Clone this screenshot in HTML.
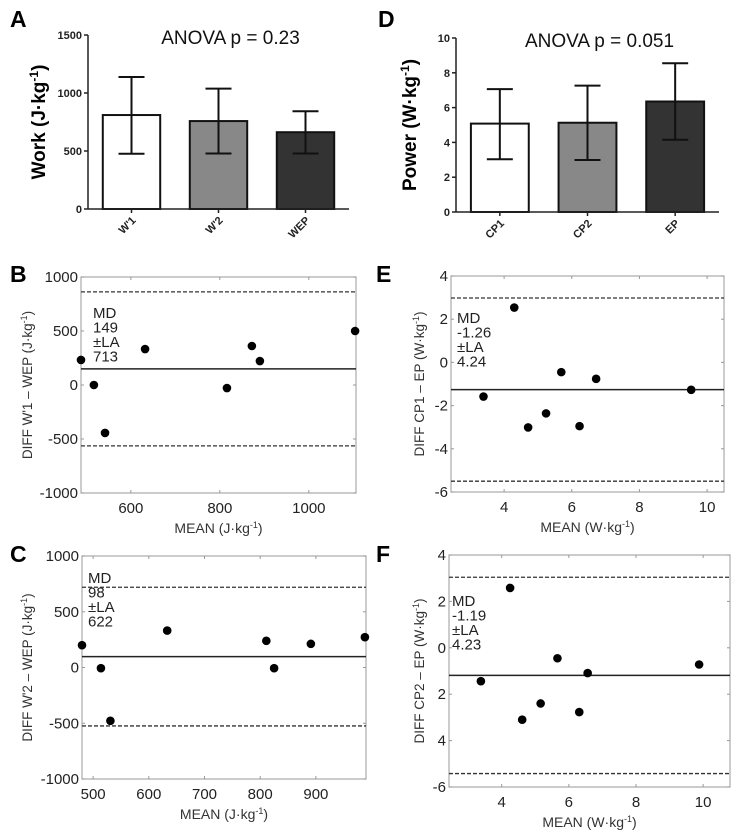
<!DOCTYPE html>
<html><head><meta charset="utf-8"><style>
html,body{margin:0;padding:0;background:#fff;}
svg{display:block;font-family:"Liberation Sans",Arial,sans-serif;}
</style></head><body>
<svg id="fig" width="738" height="834" viewBox="0 0 738 834"></svg>
<script>
// ---- Data: bar charts ----
const workCats = ["W'1","W'2","WEP"];
const workMeans = [810, 758, 662];
const workUpper = [1138, 1038, 843];
const workLower = [476, 478, 478];
const workTicks = [0, 500, 1000, 1500];
const powerCats = ["CP1","CP2","EP"];
const powerMeans = [5.08, 5.13, 6.35];
const powerUpper = [7.06, 7.26, 8.55];
const powerLower = [3.03, 2.99, 4.15];
const powerTicks = [0, 2, 4, 6, 8, 10];
// ---- Data: Bland-Altman B ----
const bMean = [488, 517, 542, 632, 816, 872, 890, 1104];
const bDiff = [232, 0, -444, 333, -28, 361, 222, 500];
const bMD = 149, bLA = 713;
// ---- Data: Bland-Altman C ----
const cMean = [480, 514, 531, 633, 811, 825, 891, 988];
const cDiff = [200, -6, -478, 331, 239, -6, 212, 272];
const cMD = 98, cLA = 622;
// ---- Data: Bland-Altman E ----
const eMean = [3.39, 4.30, 4.71, 5.24, 5.69, 6.23, 6.72, 9.53];
const eDiff = [-1.58, 2.54, -3.01, -2.36, -0.45, -2.95, -0.76, -1.27];
const eMD = -1.26, eLA = 4.24;
// ---- Data: Bland-Altman F ----
const fMean = [3.38, 4.25, 4.61, 5.16, 5.66, 6.31, 6.56, 9.88];
const fDiff = [-1.44, 2.58, -3.10, -2.40, -0.45, -2.77, -1.09, -0.72];
const fMD = -1.19, fLA = 4.23;
const kgTicksY = [-1000, -500, 0, 500, 1000];
const kgTicksYLabels = ["-1000","-500","0","500","1000"];
const bTicksX = [600, 800, 1000];
const cTicksX = [500, 600, 700, 800, 900];
const wTicksX = [4, 6, 8, 10];
const wTicksY = [-6, -4, -2, 0, 2, 4];
const eTickLabels = ["-6","-4","-2","0","2","4"];
const fTickLabels = ["-6","4","2","0","2","4"];

const NS = "http://www.w3.org/2000/svg";
const svg = document.getElementById('fig');
function mk(tag, attrs, parent, text){
  const e = document.createElementNS(NS, tag);
  for (const k in attrs) e.setAttribute(k, attrs[k]);
  if (text !== undefined) e.textContent = text;
  (parent || svg).appendChild(e);
  return e;
}
function letter(t, x, y){
  const e = mk('text', {x:x, y:y, 'font-size':23, 'font-weight':'bold', fill:'#000'}, svg, t);
  
  
}

function barChart(id, p, cats, means, up, lo, ticks, ymax, fills, title, ytitleMain, ytitleUnit, yt){
  const g = mk('g', {});
  
  
  const sy = v => p.y1 - v / ymax * (p.y1 - p.y0);
  const n = cats.length, bw = (p.x1 - p.x0) / n;
  const sx = i => p.x0 + bw * (i + 0.5);
  means.forEach((m, i) => {
    const w = bw * 0.66;
    const r = mk('rect', {x:sx(i)-w/2, y:sy(m), width:w, height:sy(0)-sy(m), fill:fills[i], stroke:'#111', 'stroke-width':2}, g);
    
    
    const eb = mk('g', {stroke:'#111', 'stroke-width':2}, g);
    
    
    mk('line', {x1:sx(i), x2:sx(i), y1:sy(up[i]), y2:sy(lo[i])}, eb);
    mk('line', {x1:sx(i)-13, x2:sx(i)+13, y1:sy(up[i]), y2:sy(up[i])}, eb);
    mk('line', {x1:sx(i)-13, x2:sx(i)+13, y1:sy(lo[i]), y2:sy(lo[i])}, eb);
    const tl = mk('text', {transform:`translate(${sx(i)+5},${p.y1+12}) rotate(-45)`, 'text-anchor':'end', 'font-size':11, 'font-weight':'bold', fill:'#222'}, g, cats[i]);
    
    
  });
  const ax = mk('g', {stroke:'#222', 'stroke-width':1.5}, g);
  
  
  mk('line', {x1:p.x0, x2:p.x0, y1:p.y0, y2:p.y1}, ax);
  mk('line', {x1:p.x0, x2:p.x1, y1:p.y1, y2:p.y1}, ax);
  cats.forEach((c, i) => mk('line', {x1:sx(i), x2:sx(i), y1:p.y1, y2:p.y1+4}, ax));
  ticks.forEach(t => {
    mk('line', {x1:p.x0-4, x2:p.x0, y1:sy(t), y2:sy(t)}, ax);
    const tl = mk('text', {x:p.x0-6, y:sy(t)+4, 'text-anchor':'end', 'font-size':11, 'font-weight':'bold', fill:'#222'}, g, String(t));
    
    
  });
  const tt = mk('text', {x:(p.x0+p.x1)/2+12, y:p.y0+9, 'text-anchor':'middle', 'font-size':19, fill:'#111'}, g, title);
  
  
  const yti = mk('text', {transform:`translate(${yt},${(p.y0+p.y1)/2}) rotate(-90)`, 'text-anchor':'middle', 'font-size':19, 'font-weight':'bold', fill:'#000'}, g);
  
  
  mk('tspan', {}, yti, ytitleMain);
  mk('tspan', {'baseline-shift':'super', 'font-size':12}, yti, '-1');
  mk('tspan', {}, yti, ')');
}

function baPlot(id, p, xr, yr, xs, ys, md, la, xticks, yticks, ylabels, ytitle, xtitle, unit, text, tx, tyBase, ytx){
  const g = mk('g', {});
  
  
  const sx = v => p.l + (v - xr[0]) / (xr[1] - xr[0]) * (p.r - p.l);
  const sy = v => p.b - (v - yr[0]) / (yr[1] - yr[0]) * (p.b - p.t);
  const box = mk('rect', {x:p.l, y:p.t, width:p.r-p.l, height:p.b-p.t, fill:'none', stroke:'#aaa', 'stroke-width':1.2}, g);
  
  
  xticks.forEach(t => {
    mk('line', {x1:sx(t), x2:sx(t), y1:p.b, y2:p.b-3, stroke:'#999'}, g);
    mk('line', {x1:sx(t), x2:sx(t), y1:p.t, y2:p.t+3, stroke:'#999'}, g);
    const tl = mk('text', {x:sx(t), y:p.b+20, 'text-anchor':'middle', 'font-size':15, fill:'#222'}, g, String(t));
    
    
  });
  yticks.forEach((t, i) => {
    mk('line', {x1:p.l, x2:p.l+3, y1:sy(t), y2:sy(t), stroke:'#999'}, g);
    mk('line', {x1:p.r, x2:p.r-3, y1:sy(t), y2:sy(t), stroke:'#999'}, g);
    const tl = mk('text', {x:p.l-3, y:sy(t)+5, 'text-anchor':'end', 'font-size':15, fill:'#222'}, g, ylabels[i]);
    
    
  });
  const ml = mk('line', {x1:p.l, x2:p.r, y1:sy(md), y2:sy(md), stroke:'#222', 'stroke-width':1.5}, g);
  
  
  [md + la, md - la].forEach(v => {
    const l = mk('line', {x1:p.l, x2:p.r, y1:sy(v), y2:sy(v), stroke:'#333', 'stroke-width':1.3, 'stroke-dasharray':'4,2'}, g);
    
    
  });
  xs.forEach((x, i) => {
    const c = mk('circle', {cx:sx(x), cy:sy(ys[i]), r:4.3, fill:'#000'}, g);
    
    
  });
  const tg = mk('text', {'font-size':15, fill:'#222'}, g);
  
  
  text.forEach((s, i) => mk('tspan', {x:tx, y:tyBase + i*14.5}, tg, s));
  const yti = mk('text', {transform:`translate(${ytx},${(p.t+p.b)/2}) rotate(-90)`, 'text-anchor':'middle', 'font-size':13.5, fill:'#333'}, g);
  
  
  mk('tspan', {}, yti, ytitle + ' (' + unit + '·kg');
  mk('tspan', {'baseline-shift':'super', 'font-size':9}, yti, '-1');
  mk('tspan', {}, yti, ')');
  const xti = mk('text', {x:(p.l+p.r)/2, y:p.b+40, 'text-anchor':'middle', 'font-size':14, fill:'#333'}, g);
  
  
  mk('tspan', {}, xti, xtitle + ' (' + unit + '·kg');
  mk('tspan', {'baseline-shift':'super', 'font-size':9}, xti, '-1');
  mk('tspan', {}, xti, ')');
}

letter('A', 10, 27); letter('D', 378, 27);
letter('B', 10, 282); letter('E', 376, 282);
letter('C', 10, 562); letter('F', 376, 562);

barChart('work-bar-chart', {x0:88, x1:349, y0:35, y1:209}, workCats, workMeans, workUpper, workLower, workTicks, 1500, ['#fff','#888','#333'], 'ANOVA p = 0.23', 'Work (J·kg', '', 45);
barChart('power-bar-chart', {x0:456, x1:719, y0:38, y1:212}, powerCats, powerMeans, powerUpper, powerLower, powerTicks, 10, ['#fff','#888','#333'], 'ANOVA p = 0.051', 'Power (W·kg', '', 416);

baPlot('bland-altman-b', {l:81, r:356, t:277, b:493}, [488, 1106], [-1000, 1000], bMean, bDiff, bMD, bLA, bTicksX, kgTicksY, kgTicksYLabels, "DIFF W'1 – WEP", 'MEAN', 'J', ['MD', String(bMD), '±LA', String(bLA)], 93, 318, 32);
baPlot('bland-altman-c', {l:82, r:366, t:556, b:779}, [480, 990], [-1000, 1000], cMean, cDiff, cMD, cLA, cTicksX, kgTicksY, kgTicksYLabels, "DIFF W'2 – WEP", 'MEAN', 'J', ['MD', String(cMD), '±LA', String(cLA)], 88, 583, 32);
baPlot('bland-altman-e', {l:451, r:724, t:276, b:492}, [2.43, 10.5], [-6, 4], eMean, eDiff, eMD, eLA, wTicksX, wTicksY, eTickLabels, 'DIFF CP1 – EP', 'MEAN', 'W', ['MD', String(eMD), '±LA', eLA.toFixed(2)], 457, 323, 424);
baPlot('bland-altman-f', {l:449, r:730, t:555, b:787}, [2.43, 10.8], [-6, 4], fMean, fDiff, fMD, fLA, wTicksX, wTicksY, fTickLabels, 'DIFF CP2 – EP', 'MEAN', 'W', ['MD', String(fMD), '±LA', String(fLA)], 452, 606, 424);
</script>
</body></html>
